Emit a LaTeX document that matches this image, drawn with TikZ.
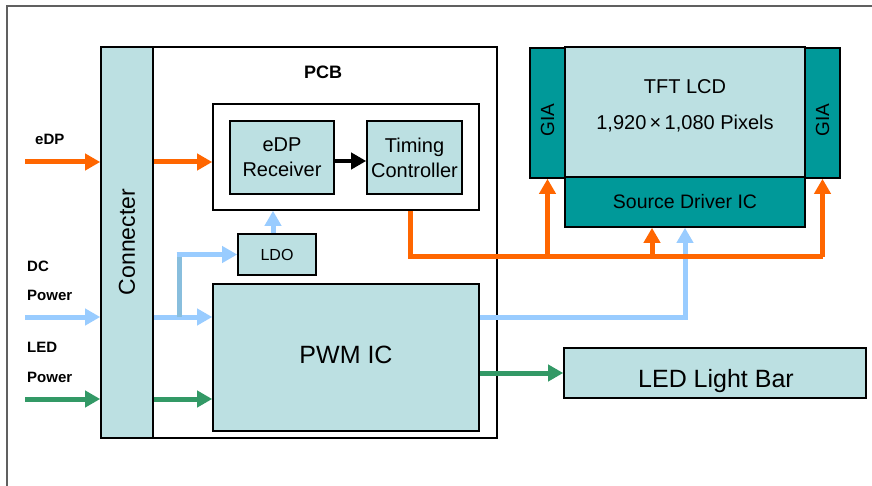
\documentclass[tikz,border=0pt]{standalone}
\usepackage{fontspec}
\setmainfont{Liberation Sans}
\usetikzlibrary{arrows.meta}
\definecolor{lteal}{HTML}{BCE0E2}
\definecolor{dteal}{HTML}{009999}
\definecolor{orng}{HTML}{FF6600}
\definecolor{lblue}{HTML}{99CCFF}
\definecolor{dblue}{HTML}{88BEDD}
\definecolor{grn}{HTML}{339966}
\definecolor{frame}{HTML}{606060}
\tikzset{
  blk/.style={draw=black, line width=1.6pt, inner sep=0pt, align=center},
  lbox/.style={blk, fill=lteal},
  dbox/.style={blk, fill=dteal},
  wbox/.style={blk, fill=white},
  lab/.style={font=\fontsize{15}{18}\selectfont\bfseries, inner sep=0pt, anchor=west},
  arr/.style={line width=5pt, -{Triangle[length=15pt,width=16pt]}},
  oarr/.style={arr, draw=orng},
  barr/.style={arr, draw=lblue},
  garr/.style={arr, draw=grn},
  karr/.style={arr, draw=black},
}
\begin{document}
\begin{tikzpicture}[x=1pt,y=-1pt]
\useasboundingbox (0,0) rectangle (872,486);
% outer frame (top and left edges)
\draw[frame, line width=2pt] (7,486) -- (7,6) -- (872,6);

% PCB
\node[wbox, minimum width=396pt, minimum height=391pt] (pcb) at (299,242.5) {};
\node[font=\fontsize{18}{21}\selectfont\bfseries] (pcbl) at (323,72) {PCB};
\node[lbox, minimum width=52pt, minimum height=391pt] (conn) at (127,242.5) {};
\node[rotate=90, font=\fontsize{23}{27}\selectfont] (connl) at (127,242) {Connecter};

\node[wbox, minimum width=266pt, minimum height=106pt] (inner) at (346,157) {};
\node[lbox, minimum width=104pt, minimum height=73pt, font=\fontsize{20}{25}\selectfont] (rec) at (282,157.5) {eDP\\Receiver};
\node[lbox, minimum width=95pt, minimum height=73pt, font=\fontsize{20}{25}\selectfont] (tc) at (414.5,157.5) {Timing\\Controller};
\node[lbox, minimum width=78pt, minimum height=41pt, font=\fontsize{16}{19}\selectfont] (ldo) at (277,254.5) {LDO};
\node[lbox, minimum width=266pt, minimum height=147pt] (pwm) at (346,357.5) {};
\node[font=\fontsize{25}{30}\selectfont] (pwml) at (346,355) {PWM IC};

% LCD panel
\node[lbox, minimum width=240pt, minimum height=130pt] (lcd) at (685,112) {};
\node[font=\fontsize{20}{36}\selectfont, align=center] (lcdl) at (685,106) {TFT LCD\\1,920\,\texttimes\,1,080 Pixels};
\node[dbox, minimum width=35pt, minimum height=130pt] (giaL) at (547.5,113) {};
\node[rotate=90, font=\fontsize{19}{22}\selectfont] (giaLl) at (547.5,120) {GIA};
\node[dbox, minimum width=35pt, minimum height=130pt] (giaR) at (822.5,113) {};
\node[rotate=90, font=\fontsize{19}{22}\selectfont] (giaRl) at (822.5,120) {GIA};
\node[dbox, minimum width=240pt, minimum height=50pt, font=\fontsize{19.5}{22}\selectfont] (sd) at (685,202) {Source Driver IC};
\node[lbox, minimum width=302pt, minimum height=50pt] (led) at (715,373) {};
\node[font=\fontsize{25}{30}\selectfont, text depth=0pt] (ledl2) at (716,378) {LED Light Bar};

% input labels
\node[lab] (edpl) at (35,139) {eDP};
\node[lab] (dcl) at (27,266) {DC};
\node[lab] (dcp) at (27,295) {Power};
\node[lab] (ledl) at (27,347.5) {LED};
\node[lab] (ledp) at (27,377) {Power};

% coordinates
\coordinate (edpin) at (25,162);
\coordinate (dcin) at (25,317);
\coordinate (ledin) at (25,399);
\coordinate (br) at (179,317);
\coordinate (ob) at (410,257);
\coordinate (sdo) at (652,257);
\coordinate (rx) at (334,161);

% eDP
\draw[oarr] (edpin) -- (edpin -| conn.west);
\draw[oarr] (conn.east |- edpin) -- (inner.west |- edpin);
\draw[karr, line width=4pt] (rec.east |- rx) -- (tc.west |- rx);

% DC power
\draw[barr] (dcin) -- (dcin -| conn.west);
\draw[barr] (conn.east |- dcin) -- (pwm.west |- dcin);
\draw[line width=5pt, dblue] (br) -- (br |- ldo.west);
\draw[barr] ([xshift=-2.5pt]br |- ldo.west) -- (ldo.west);
\draw[barr] (ldo.north -| 273,0) -- (inner.south -| 273,0);
\draw[barr] (pwm.east |- dcin) -| (sd.south);

% LED power
\draw[garr] (ledin) -- (ledin -| conn.west);
\draw[garr] (conn.east |- ledin) -- (pwm.west |- ledin);
\draw[garr] (pwm.east |- led.west) -- (led.west);

% timing to panel
\draw[line width=5pt, orng] (inner.south -| ob) -- (ob) -- (giaR.south |- ob);
\draw[oarr] (giaR.south |- ob) -- (giaR.south);
\draw[oarr] (giaL.south |- ob) -- (giaL.south);
\draw[oarr] (sdo) -- (sdo |- sd.south);
\end{tikzpicture}
\end{document}
